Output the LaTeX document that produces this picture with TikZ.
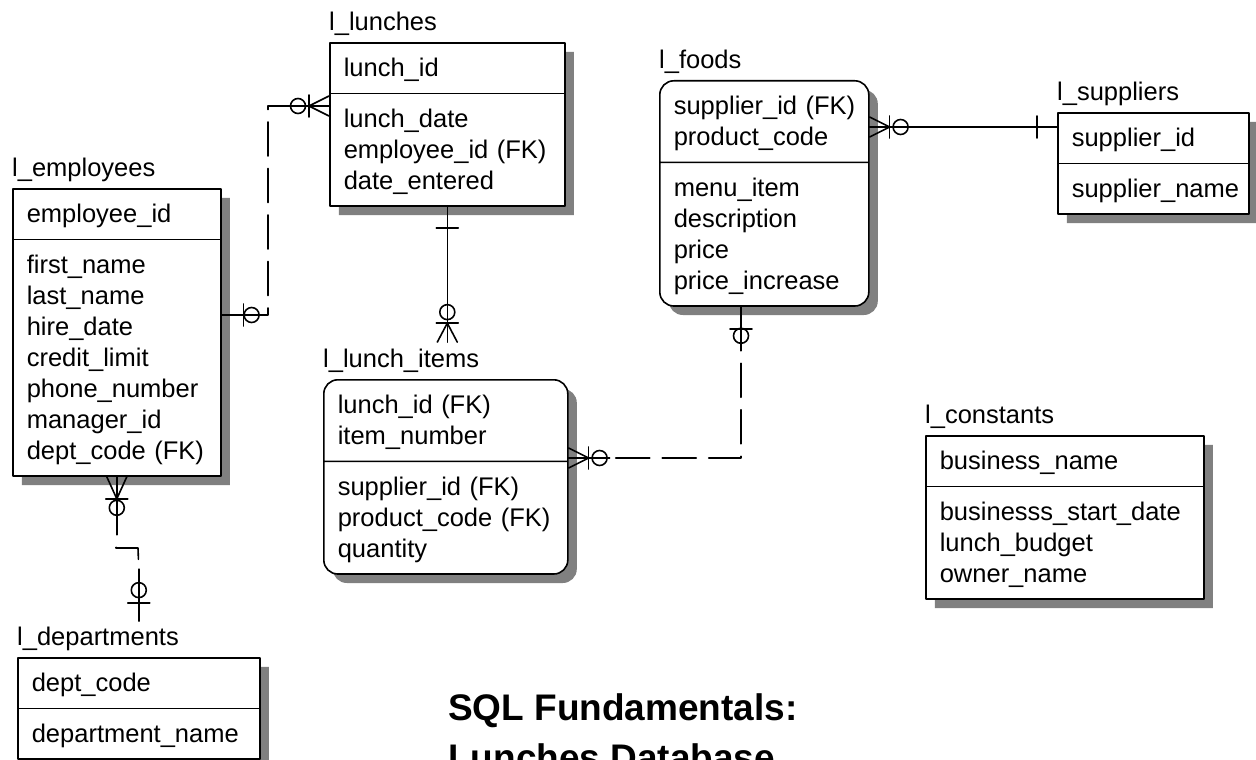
\documentclass[tikz,border=0pt]{standalone}
\usepackage{fontspec}
\setmainfont{Liberation Sans}
\usetikzlibrary{positioning}
\usetikzlibrary{shadows}
\usetikzlibrary{shapes.multipart}

\newcommand{\erfont}{\fontsize{25.5}{31}\selectfont}
\newcommand{\fld}[1]{\rule[-7pt]{0pt}{31pt}#1}

\tikzset{
  entity/.style={rectangle split, rectangle split parts=2, draw, line width=1.6pt,
    fill=white, inner xsep=14pt, inner ysep=9pt, align=left, font=\erfont,
    anchor=north west,
    drop shadow={shadow xshift=9pt, shadow yshift=-9pt, fill=black!50, opacity=1}},
  dependent/.style={entity, rounded corners=14pt},
  tname/.style={font=\erfont, inner sep=0pt, text depth=0pt},
  title/.style={font=\fontsize{37}{44}\selectfont\bfseries, inner sep=0pt, anchor=base west},
  rel/.style={line width=1.6pt},
  nonid/.style={rel, dash pattern=on 34pt off 12.5pt, dash phase=34pt},
}

\begin{document}
\begin{tikzpicture}[line cap=round,line join=round,x=1pt,y=-1pt]
\useasboundingbox (0,0) rectangle (1256,760);

% tables
\node[entity, text width=180pt] (emp) at (12,188)
  {\fld{employee\_id}
   \nodepart{two}
   \fld{first\_name}\\ \fld{last\_name}\\ \fld{hire\_date}\\ \fld{credit\_limit}\\
   \fld{phone\_number}\\ \fld{manager\_id}\\ \fld{dept\_code~(FK)}};
\node[tname, above right=11pt and 0pt of emp.north west] (empname) {l\_employees};

\node[entity, text width=207pt] (lun) at (329,42)
  {\fld{lunch\_id}
   \nodepart{two}
   \fld{lunch\_date}\\ \fld{employee\_id~(FK)}\\ \fld{date\_entered}};
\node[tname, above right=11pt and 0pt of lun.north west] (lunname) {l\_lunches};

\node[dependent, text width=181pt] (foo) at (659,80)
  {\fld{supplier\_id~(FK)}\\ \fld{product\_code}
   \nodepart{two}
   \fld{menu\_item}\\ \fld{description}\\ \fld{price}\\ \fld{price\_increase}};
\node[tname, above right=11pt and 0pt of foo.north west] (fooname) {l\_foods};

\node[entity, text width=163pt] (sup) at (1057,112)
  {\fld{supplier\_id}
   \nodepart{two}
   \fld{supplier\_name}};
\node[tname, above right=11pt and 0pt of sup.north west] (supname) {l\_suppliers};

\node[dependent, text width=216pt] (itm) at (323,379)
  {\fld{lunch\_id~(FK)}\\ \fld{item\_number}
   \nodepart{two}
   \fld{supplier\_id~(FK)}\\ \fld{product\_code~(FK)}\\ \fld{quantity}};
\node[tname, above right=11pt and 0pt of itm.north west] (itmname) {l\_lunch\_items};

\node[entity, text width=250pt] (con) at (925,435)
  {\fld{business\_name}
   \nodepart{two}
   \fld{businesss\_start\_date}\\ \fld{lunch\_budget}\\ \fld{owner\_name}};
\node[tname, above right=11pt and 0pt of con.north west] (conname) {l\_constants};

\node[entity, text width=214pt] (dpt) at (17,657)
  {\fld{dept\_code}
   \nodepart{two}
   \fld{department\_name}};
\node[tname, above right=11pt and 0pt of dpt.north west] (dptname) {l\_departments};

% employees -> lunches
\coordinate (el1) at (268,315);
\coordinate (el2) at (268,106);
\coordinate (e1) at (emp.east |- el1);
\coordinate (l1) at (lun.west |- el2);
\draw[rel] (e1) -- (el1) -- ++(0,-7);
\draw[nonid] ([yshift=7pt]el1) -- ([yshift=-3pt]el2);
\draw[rel] ([yshift=-3pt]el2) -- (el2) -- (l1);
\draw[rel] ([xshift=22pt]e1) ++(0,-11) -- ++(0,22);
\draw[rel] ([xshift=30pt]e1) circle[radius=7.5pt];
\draw[rel] ([xshift=-20pt]l1) -- ++(20,-10) ([xshift=-20pt]l1) -- ++(20,10);
\draw[rel] ([xshift=-20pt]l1) ++(0,-11) -- ++(0,22);
\draw[rel] ([xshift=-31pt]l1) circle[radius=7.5pt];

% lunches -> lunch items
\coordinate (l2) at (lun.south);
\path (itmname.north -| lun.south) ++(0,-7) coordinate (i2);
\draw[rel] (l2) -- (i2);
\draw[rel] ([yshift=-21pt]l2) ++(-11,0) -- ++(22,0);
\draw[rel] ([yshift=19pt]i2) -- ++(-10,19) ([yshift=19pt]i2) -- ++(10,19);
\draw[rel] ([yshift=19pt]i2) ++(-11,0) -- ++(22,0);
\draw[rel] ([yshift=30pt]i2) circle[radius=7.5pt];

% foods -> suppliers
\path (foo.north east) ++(0,47) coordinate (f3);
\coordinate (s3) at (sup.west |- f3);
\draw[rel] (f3) -- (s3);
\draw[rel] ([xshift=20pt]f3) -- ++(-20,-10) ([xshift=20pt]f3) -- ++(-20,10);
\draw[rel] ([xshift=20pt]f3) ++(0,-11) -- ++(0,22);
\draw[rel] ([xshift=31pt]f3) circle[radius=7.5pt];
\draw[rel] ([xshift=-20pt]s3) ++(0,-11) -- ++(0,22);

% foods -> lunch items
\coordinate (fi) at (741,458);
\coordinate (f4) at (foo.south -| fi);
\coordinate (i4) at (itm.east |- fi);
\draw[rel] (f4) -- ++(0,44);
\draw[nonid] ([yshift=-44pt]f4) -- (fi) -- ([xshift=41pt]i4);
\draw[rel] ([xshift=41pt]i4) -- (i4);
\draw[rel] ([yshift=-22pt]f4) ++(-11,0) -- ++(22,0);
\draw[rel] ([yshift=-29pt]f4) circle[radius=7.5pt];
\draw[rel] ([xshift=20pt]i4) -- ++(-20,-10) ([xshift=20pt]i4) -- ++(-20,10);
\draw[rel] ([xshift=20pt]i4) ++(0,-11) -- ++(0,22);
\draw[rel] ([xshift=31pt]i4) circle[radius=7.5pt];

% employees -> departments
\coordinate (e5) at (emp.south);
\coordinate (ed1) at (116,548);
\coordinate (ed2) at (138,548);
\path (dptname.north -| dpt.north) ++(0,-6) coordinate (d5);
\draw[rel] (e5) -- ++(0,58);
\draw[nonid] ([yshift=-58pt]e5) -- (ed1) -- (ed2) -- ([yshift=52pt]d5);
\draw[rel] ([yshift=52pt]d5) -- (d5);
\draw[rel] ([yshift=-22pt]e5) -- ++(-10,-22) ([yshift=-22pt]e5) -- ++(10,-22);
\draw[rel] ([yshift=-22pt]e5) ++(-11,0) -- ++(22,0);
\draw[rel] ([yshift=-31pt]e5) circle[radius=7.5pt];
\draw[rel] ([yshift=18pt]d5) ++(-11,0) -- ++(22,0);
\draw[rel] ([yshift=31pt]d5) circle[radius=7.5pt];

% title
\node[title] (ttl) at (448,720) {SQL Fundamentals:};
\node[title] (ttl2) at (448,770) {Lunches Database};
\end{tikzpicture}
\end{document}
